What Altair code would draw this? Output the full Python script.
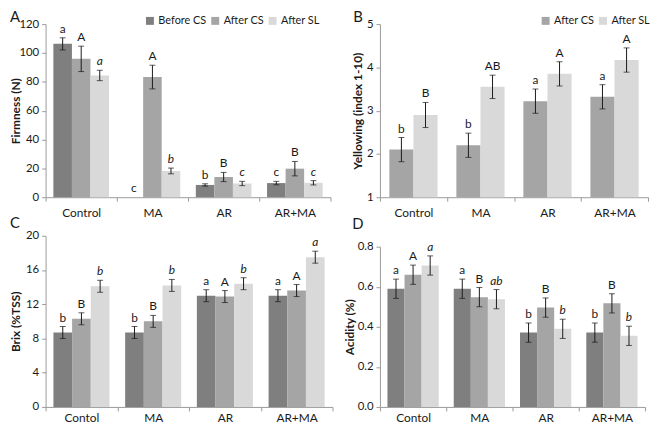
import altair as alt
import pandas as pd

FONT = "Lato"

cats = ["Control", "MA", "AR", "AR+MA"]
cats_cd = ["Contol", "MA", "AR", "AR+MA"]
series3 = ["Before CS", "After CS", "After SL"]
series2 = ["After CS", "After SL"]
colors3 = ["#7f7f7f", "#a5a5a5", "#d9d9d9"]
colors2 = ["#a5a5a5", "#d9d9d9"]

# Panel A - Firmness (N)
a_before = [106.3, 0.0, 8.5, 9.8]
a_before_err = [4.2, 0.0, 0.8, 1.2]
a_before_lbl = ["a", "c", "b", "c"]
a_cs = [95.9, 83.3, 14.0, 19.8]
a_cs_err = [8.8, 8.2, 3.2, 5.0]
a_cs_lbl = ["A", "A", "B", "B"]
a_sl = [84.4, 18.2, 9.5, 10.0]
a_sl_err = [3.6, 2.0, 1.5, 1.5]
a_sl_lbl = ["a", "b", "c", "c"]

# Panel B - Yellowing (index 1-10)
b_cs = [2.10, 2.20, 3.22, 3.32]
b_cs_err = [0.28, 0.28, 0.28, 0.28]
b_cs_lbl = ["b", "b", "a", "a"]
b_sl = [2.90, 3.55, 3.85, 4.17]
b_sl_err = [0.29, 0.27, 0.28, 0.28]
b_sl_lbl = ["B", "AB", "A", "A"]

# Panel C - Brix (%TSS)
c_before = [8.7, 8.7, 13.0, 13.0]
c_before_err = [0.7, 0.7, 0.7, 0.7]
c_before_lbl = ["b", "b", "a", "a"]
c_cs = [10.3, 10.0, 12.9, 13.6]
c_cs_err = [0.7, 0.7, 0.7, 0.7]
c_cs_lbl = ["B", "B", "A", "A"]
c_sl = [14.1, 14.2, 14.4, 17.5]
c_sl_err = [0.7, 0.7, 0.7, 0.7]
c_sl_lbl = ["b", "b", "b", "a"]

# Panel D - Acidity (%)
d_before = [0.590, 0.590, 0.371, 0.371]
d_before_err = [0.048, 0.048, 0.048, 0.048]
d_before_lbl = ["a", "a", "b", "b"]
d_cs = [0.660, 0.548, 0.496, 0.517]
d_cs_err = [0.048, 0.048, 0.048, 0.048]
d_cs_lbl = ["A", "B", "B", "B"]
d_sl = [0.706, 0.538, 0.390, 0.355]
d_sl_err = [0.048, 0.048, 0.048, 0.048]
d_sl_lbl = ["a", "ab", "b", "b"]

AXIS_GRAY = "#9a9a9a"
INK = "#1a1a1a"


def table(categories, series, values, errs, labels, italics):
    rows = []
    for s, vals, es, ls, it in zip(series, values, errs, labels, italics):
        for c, v, e, l in zip(categories, vals, es, ls):
            rows.append(dict(cat=c, series=s, value=v, lo=v - e, hi=v + e,
                             err=e, label=l, italic=it))
    return pd.DataFrame(rows)


def panel(df, categories, series, colors, ydom, yticks, yfmt, ytitle, letter,
          w, h, xpo, yext, letter_xy, xlabpad, legend_xy=None, baseline=None):
    base = alt.Chart(df)
    x = alt.X("cat:N", sort=categories, title=None,
              scale=alt.Scale(paddingInner=0, paddingOuter=0),
              axis=alt.Axis(tickBand="extent", labelAngle=0, labelPadding=xlabpad,
                            tickSize=4, domainColor=AXIS_GRAY, tickColor=AXIS_GRAY,
                            labelColor=INK, labelFontSize=12, labelFont=FONT))
    xo = alt.XOffset("series:N", sort=series,
                     scale=alt.Scale(paddingInner=0, paddingOuter=xpo))
    ys = alt.Scale(domain=ydom, nice=False, zero=False)
    yax = alt.Axis(values=yticks, format=yfmt, grid=False, tickSize=4,
                   labelPadding=3, minExtent=yext, maxExtent=yext, titlePadding=2,
                   titleFontSize=12, titleFontWeight="bold", titleFont=FONT,
                   titleColor=INK, labelColor=INK, labelFontSize=11.5,
                   labelFont=FONT, domainColor=AXIS_GRAY, tickColor=AXIS_GRAY)

    if legend_xy is None:
        leg = None
    else:
        leg = alt.Legend(orient="none", legendX=legend_xy[0], legendY=legend_xy[1],
                         direction="horizontal", title=None, symbolType="square",
                         symbolSize=64, symbolStrokeWidth=0, labelFontSize=11,
                         labelFont=FONT, labelColor=INK, columnPadding=3,
                         labelOffset=3, padding=0)
    enc = dict(x=x, xOffset=xo,
               y=alt.Y("value:Q", scale=ys, axis=yax, title=ytitle),
               color=alt.Color("series:N", sort=series,
                               scale=alt.Scale(domain=series, range=colors),
                               legend=leg))
    if baseline is not None:
        enc["y2"] = alt.datum(baseline)
    bars = base.mark_bar().encode(**enc)

    errbase = base.transform_filter("datum.err > 0")
    rule = errbase.mark_rule(color=INK, strokeWidth=1).encode(
        x=x, xOffset=xo, y=alt.Y("lo:Q", scale=ys, axis=yax, title=ytitle), y2="hi:Q")
    cap_hi = errbase.mark_tick(color=INK, thickness=1, size=6).encode(
        x=x, xOffset=xo, y=alt.Y("hi:Q", scale=ys, axis=yax, title=ytitle))
    cap_lo = errbase.mark_tick(color=INK, thickness=1, size=6).encode(
        x=x, xOffset=xo, y=alt.Y("lo:Q", scale=ys, axis=yax, title=ytitle))

    tenc = dict(x=x, xOffset=xo,
                y=alt.Y("hi:Q", scale=ys, axis=yax, title=ytitle),
                text="label:N")
    txt_n = base.transform_filter("!datum.italic").mark_text(
        baseline="alphabetic", dy=-5, fontSize=12, font=FONT, color=INK).encode(**tenc)
    txt_i = base.transform_filter("datum.italic").mark_text(
        baseline="alphabetic", dy=-5, fontSize=12, font=FONT, color=INK,
        fontStyle="italic").encode(**tenc)

    letter_layer = alt.Chart(pd.DataFrame({"letter": [letter]})).mark_text(
        align="left", baseline="alphabetic", fontSize=15, font=FONT, color=INK
    ).encode(x=alt.value(letter_xy[0]), y=alt.value(letter_xy[1]), text="letter:N")

    return alt.layer(bars, rule, cap_hi, cap_lo, txt_n, txt_i, letter_layer).properties(
        width=w, height=h)


dfA = table(cats, series3, [a_before, a_cs, a_sl], [a_before_err, a_cs_err, a_sl_err],
            [a_before_lbl, a_cs_lbl, a_sl_lbl], [False, False, True])
dfB = table(cats, series2, [b_cs, b_sl], [b_cs_err, b_sl_err],
            [b_cs_lbl, b_sl_lbl], [False, False])
dfC = table(cats_cd, series3, [c_before, c_cs, c_sl], [c_before_err, c_cs_err, c_sl_err],
            [c_before_lbl, c_cs_lbl, c_sl_lbl], [False, False, True])
dfD = table(cats_cd, series3, [d_before, d_cs, d_sl], [d_before_err, d_cs_err, d_sl_err],
            [d_before_lbl, d_cs_lbl, d_sl_lbl], [False, False, True])

pA = panel(dfA, cats, series3, colors3, [0, 120], [0, 20, 40, 60, 80, 100, 120], "d",
           "Firmness (N)", "A", 288, 175, 0.42, 21, (-36, -2), 6, legend_xy=(100, -9))
pB = panel(dfB, cats, series2, colors2, [1, 5], [1, 2, 3, 4, 5], "d",
           "Yellowing (index 1-10)", "B", 271, 175, 0.39, 14, (-27, -2), 6,
           legend_xy=(162, -9), baseline=1)
pC = panel(dfC, cats_cd, series3, colors3, [0, 20], [0, 4, 8, 12, 16, 20], "d",
           "Brix (%TSS)", "C", 290, 173, 0.42, 21, (-36, -8), 2)
pD = panel(dfD, cats_cd, series3, colors3, [0, 0.8], [0, 0.2, 0.4, 0.6, 0.8], ".1f",
           "Acidity (%)", "D", 268, 162, 0.44, 22, (-28, -18), 2)

res = dict(color="independent", xOffset="independent", x="independent", y="independent")
chart = alt.hconcat(
    alt.vconcat(pA, pC, spacing=39, bounds="flush").resolve_scale(**res),
    alt.vconcat(pB, pD, spacing=50, bounds="flush").resolve_scale(**res),
    spacing=10,
).resolve_scale(**res).properties(
    padding={"left": 2, "top": 0, "right": 0, "bottom": 0}
).configure(font=FONT).configure_view(stroke=None)

chart.save("out.html", embed_options={"renderer": "svg", "actions": False})
